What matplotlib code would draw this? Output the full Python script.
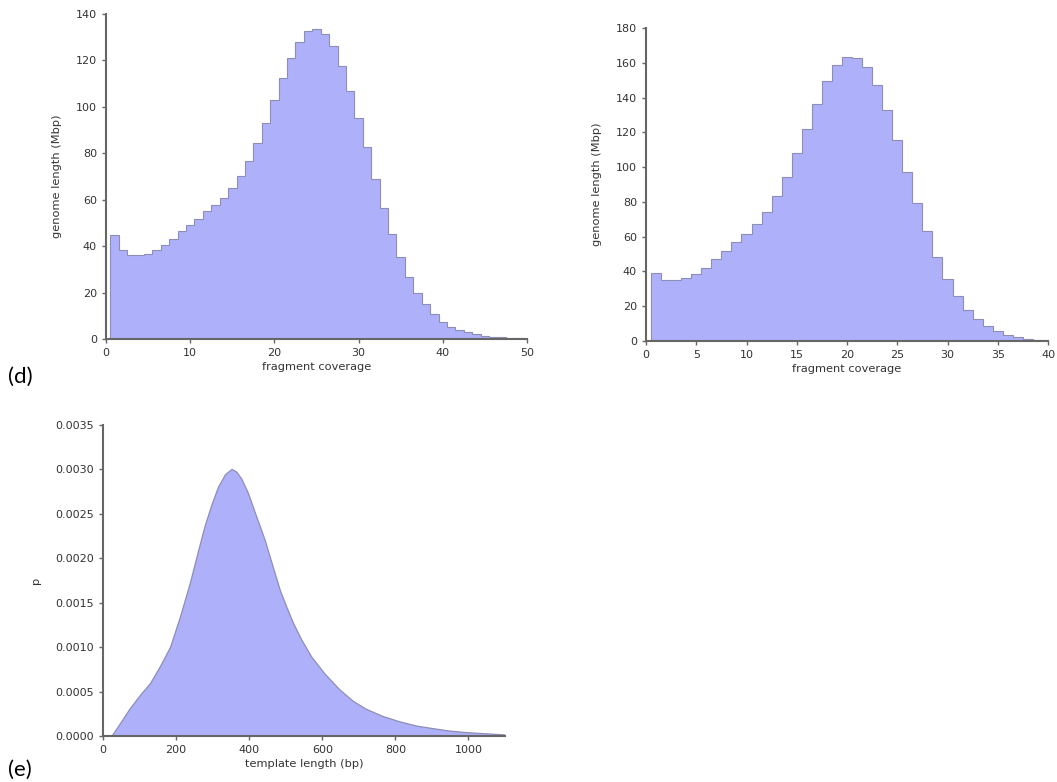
import matplotlib
matplotlib.use("Agg")
import matplotlib.pyplot as plt
import numpy as np
from matplotlib.ticker import FormatStrFormatter

# ---- data ----
cov_d1 = list(range(1, 51))
len_d1 = [44.6, 38.3, 36.1, 36.1, 36.8, 38.3, 40.4, 43.1, 46.4, 49.1,
          51.9, 55.0, 57.9, 60.9, 65.2, 70.1, 76.5, 84.4, 93.1, 102.9,
          112.5, 121.2, 127.8, 132.5, 133.7, 131.4, 126.4, 117.5, 106.7, 95.3,
          82.7, 68.8, 56.4, 45.4, 35.4, 26.8, 19.9, 14.9, 10.7, 7.4,
          5.3, 3.9, 2.9, 2.0, 1.4, 1.0, 0.7, 0.5, 0.3, 0.2]

cov_d2 = list(range(1, 41))
len_d2 = [39.3, 34.9, 34.9, 36.3, 38.4, 42.0, 47.0, 51.8, 57.0, 61.4,
          67.4, 74.3, 83.5, 94.6, 107.9, 122.1, 136.5, 149.3, 158.5, 163.5,
          163.0, 157.8, 147.0, 132.6, 115.5, 97.3, 79.5, 63.0, 48.4, 35.5,
          25.7, 18.0, 12.7, 8.6, 5.8, 3.6, 2.3, 1.3, 0.8, 0.4]

tmpl_len = [0, 25, 30, 48, 75, 103, 130, 157, 185, 212, 239, 262, 280, 298,
            316, 335, 353, 366, 380, 398, 416, 444, 457, 471, 485, 503, 521,
            544, 571, 607, 648, 685, 721, 766, 812, 857, 903, 948, 994, 1039,
            1085, 1100]
tmpl_p = [0, 0, 0.00003, 0.00014, 0.00031, 0.00046, 0.00059, 0.00078, 0.00100,
          0.00134, 0.00172, 0.00209, 0.00237, 0.00260, 0.00280, 0.00294, 0.00300,
          0.00297, 0.00289, 0.00273, 0.00252, 0.00220, 0.00202, 0.00183, 0.00164,
          0.00145, 0.00127, 0.00108, 0.00089, 0.00070, 0.00052, 0.00039, 0.00030,
          0.00022, 0.00016, 0.000113, 0.000083, 0.000056, 0.000038, 0.000027,
          0.000016, 0.000012]

# ---- style ----
FACE = '#aeb0fa'
EDGE = '#8c8eb8'
SPINE = '#666666'
TXT = '#333333'

fig = plt.figure(figsize=(10.57, 7.82), dpi=100)


def style(ax):
    for s in ['top', 'right']:
        ax.spines[s].set_visible(False)
    for s in ['left', 'bottom']:
        ax.spines[s].set_color(SPINE)
        ax.spines[s].set_linewidth(1.5)
    ax.tick_params(direction='out', length=3, width=1, colors=SPINE,
                   labelsize=8, labelcolor=TXT, top=False, right=False)


def hist_panel(ax, cov, vals, xmax, ymax, xstep):
    edges = np.concatenate([[cov[0] - 0.5], np.array(cov) + 0.5])
    ax.hist(cov, bins=edges, weights=vals, histtype='stepfilled',
            facecolor=FACE, edgecolor=EDGE, linewidth=0.8)
    ax.set_xlim(0, xmax)
    ax.set_ylim(0, ymax)
    ax.set_xticks(np.arange(0, xmax + 1, xstep))
    ax.set_yticks(np.arange(0, ymax + 1, 20))
    ax.set_xlabel('fragment coverage', fontsize=8.2, color=TXT, labelpad=3)
    ax.set_ylabel('genome length (Mbp)', fontsize=8.2, color=TXT, labelpad=10)
    style(ax)


ax1 = fig.add_axes([106 / 1057, 1 - 339 / 782, 421 / 1057, 325 / 782])
hist_panel(ax1, cov_d1, len_d1, 50, 140, 10)

ax2 = fig.add_axes([646 / 1057, 1 - 341 / 782, 402 / 1057, 313 / 782])
hist_panel(ax2, cov_d2, len_d2, 40, 180, 5)

ax3 = fig.add_axes([103 / 1057, 1 - 736 / 782, 402 / 1057, 311 / 782])
ax3.fill_between(tmpl_len, tmpl_p, 0, facecolor=FACE, edgecolor='none')
ax3.plot(tmpl_len, tmpl_p, color=EDGE, linewidth=0.9, solid_joinstyle='round')
ax3.set_xlim(0, 1100)
ax3.set_ylim(0, 0.0035)
ax3.set_xticks([0, 200, 400, 600, 800, 1000])
ax3.set_yticks(np.arange(0, 0.00351, 0.0005))
ax3.yaxis.set_major_formatter(FormatStrFormatter('%.4f'))
ax3.set_xlabel('template length (bp)', fontsize=8.2, color=TXT, labelpad=3)
ax3.set_ylabel('p', fontsize=8.2, color=TXT, labelpad=10)
style(ax3)

fig.text(8 / 1057, 1 - 383 / 782, '(d)', fontsize=16, family=['Lato', 'DejaVu Sans'],
         color='black', ha='left', va='baseline')
fig.text(8 / 1057, 1 - 776 / 782, '(e)', fontsize=16, family=['Lato', 'DejaVu Sans'],
         color='black', ha='left', va='baseline')

fig.savefig('out.png', dpi=100)
